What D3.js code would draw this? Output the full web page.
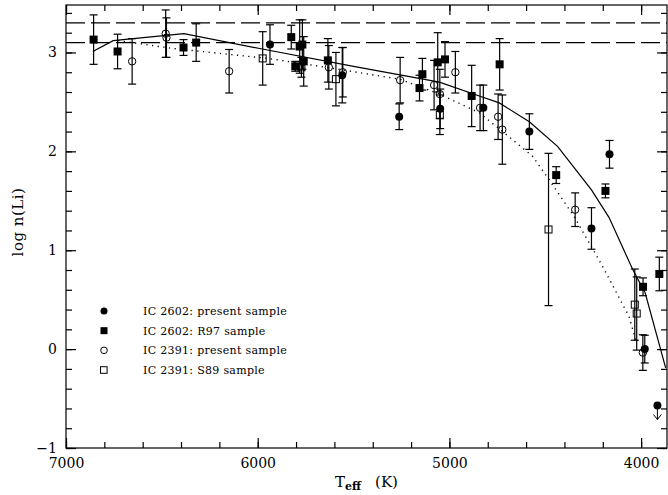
<!DOCTYPE html>
<html lang="en">
<head>
<meta charset="UTF-8">
<title>log n(Li) vs Teff</title>
<script src="https://d3js.org/d3.v7.min.js"></script>
<style>
  body { margin: 0; background: #fff; }
  text { font-family: "DejaVu Serif", serif; fill: #000; }
  .frame { fill: none; stroke: #000; stroke-width: 1.2px; }
  .tick line { stroke: #000; stroke-width: 1.2px; }
  .err { stroke: #000; stroke-width: 1.2px; }
</style>
</head>
<body>
<svg width="668" height="495"></svg>
<script>
// [Teff, log n(Li), error]
const ic2602Present = [
  [5936, 3.08, 0.20], [5559, 2.77, 0.28], [5262, 2.35, 0.13], [5048, 2.43, 0.20],
  [4823, 2.44, 0.23], [4583, 2.20, 0.18], [4259, 1.22, 0.21], [4165, 1.97, 0.14],
  [3981, 0.00, 0.14]
];
const ic2602Limits = [[3915, -0.57]];
const ic2602R97 = [
  [6856, 3.13, 0.25], [6731, 3.01, 0.175], [6387, 3.05, 0.08], [6321, 3.10, 0.19],
  [5825, 3.155, 0.12], [5804, 2.86, 0.05], [5781, 3.06, 0.27], [5767, 3.08, 0.25],
  [5760, 2.91, 0.25], [5634, 2.92, 0.22], [5156, 2.64, 0.13], [5141, 2.78, 0.16],
  [5061, 2.90, 0.30], [5023, 2.93, 0.18], [4884, 2.56, 0.31], [4738, 2.88, 0.26],
  [4443, 1.76, 0.085], [4186, 1.60, 0.07], [3990, 0.63, 0.09], [3905, 0.76, 0.17]
];
const ic2391Present = [
  [6655, 2.91, 0.23], [6480, 3.19, 0.24], [6476, 3.15, 0.20], [6149, 2.81, 0.22],
  [5629, 2.85, 0.22], [5556, 2.80, 0.25], [5257, 2.72, 0.23], [5080, 2.67, 0.25],
  [5050, 2.58, 0.25], [4969, 2.80, 0.21], [4840, 2.44, 0.23], [4746, 2.35, 0.23],
  [4724, 2.22, 0.35], [4344, 1.41, 0.17], [3991, -0.035, 0.18]
];
const ic2391S89 = [
  [5974, 2.94, 0.27], [5772, 2.85, 0.10], [5592, 2.73, 0.27], [5050, 2.37, 0.20],
  [4483, 1.21, 0.77], [4033, 0.45, 0.36], [4023, 0.36, 0.37]
];
const solidModel = [
  [6860, 3.01], [6754, 3.12], [6385, 3.19], [5990, 3.04], [5500, 2.86], [5052, 2.70],
  [4844, 2.56], [4740, 2.49], [4583, 2.30], [4436, 2.05], [4259, 1.61], [4167, 1.33],
  [4045, 0.81], [3979, 0.57], [3872, -0.19]
];
const dottedModel = [
  [6728, 3.12], [6441, 3.04], [5948, 2.94], [5642, 2.85], [5260, 2.73], [5052, 2.58],
  [4844, 2.39], [4722, 2.20], [4566, 1.95], [4479, 1.71], [4349, 1.34], [4202, 0.84],
  [4063, 0.33], [4028, 0.09]
];
const dashedLevels = [3.3, 3.1];
const legendLabels = ["IC 2602: present sample", "IC 2602: R97 sample", "IC 2391: present sample", "IC 2391: S89 sample"];
const xTicks = [7000, 6000, 5000, 4000];
const yTicks = [-1, 0, 1, 2, 3];

const svg = d3.select("svg");
const mLeft = 66, mRight = 667, mTop = 5, mBottom = 448;

const x = d3.scaleLinear().domain([7000, 3865]).range([mLeft, mRight]);
const y = d3.scaleLinear().domain([-1, 3.48]).range([mBottom, mTop]);

const xMinor = d3.range(7000, 3865, -200);
const yMinor = d3.range(-1, 3.48, 0.2);

// axes, ticks pointing inward
svg.append("g").attr("transform", `translate(0,${mBottom})`)
   .call(d3.axisBottom(x).tickValues(xMinor).tickSize(-6).tickFormat(""))
   .call(g => g.select(".domain").remove());
svg.append("g").attr("transform", `translate(0,${mBottom})`)
   .call(d3.axisBottom(x).tickValues(xTicks).tickSize(-10).tickPadding(10)
   .tickFormat(d3.format("d")))
   .call(g => g.select(".domain").remove())
   .selectAll("text").attr("font-size", 14).attr("font-family", "DejaVu Serif");
svg.append("g").attr("transform", `translate(0,${mTop})`)
   .call(d3.axisTop(x).tickValues(xMinor).tickSize(-6).tickFormat(""))
   .call(g => g.select(".domain").remove());
svg.append("g").attr("transform", `translate(0,${mTop})`)
   .call(d3.axisTop(x).tickValues(xTicks).tickSize(-10).tickFormat(""))
   .call(g => g.select(".domain").remove());

svg.append("g").attr("transform", `translate(${mLeft},0)`)
   .call(d3.axisLeft(y).tickValues(yMinor).tickSize(-6).tickFormat(""))
   .call(g => g.select(".domain").remove());
svg.append("g").attr("transform", `translate(${mLeft},0)`)
   .call(d3.axisLeft(y).tickValues(yTicks).tickSize(-10).tickPadding(9)
   .tickFormat(d => d < 0 ? "\u2212" + Math.abs(d) : d))
   .call(g => g.select(".domain").remove())
   .selectAll("text").attr("font-size", 14).attr("font-family", "DejaVu Serif");
svg.append("g").attr("transform", `translate(${mRight},0)`)
   .call(d3.axisRight(y).tickValues(yMinor).tickSize(-6).tickFormat(""))
   .call(g => g.select(".domain").remove());
svg.append("g").attr("transform", `translate(${mRight},0)`)
   .call(d3.axisRight(y).tickValues(yTicks).tickSize(-10).tickFormat(""))
   .call(g => g.select(".domain").remove());

svg.append("rect").attr("class", "frame")
   .attr("x", mLeft).attr("y", mTop).attr("width", mRight - mLeft).attr("height", mBottom - mTop);

const plot = svg.append("g");

// reference levels
plot.selectAll(".lvl").data(dashedLevels).enter().append("line")
    .attr("x1", mLeft).attr("x2", mRight)
    .attr("y1", d => y(d)).attr("y2", d => y(d))
    .attr("stroke", "#000").attr("stroke-width", 1.2)
    .attr("stroke-dasharray", "19,6");

const line = d3.line().x(d => x(d[0])).y(d => y(d[1]));
plot.append("path").datum(solidModel).attr("d", line)
    .attr("fill", "none").attr("stroke", "#000").attr("stroke-width", 1.2);
plot.append("path").datum(dottedModel).attr("d", line)
    .attr("fill", "none").attr("stroke", "#000").attr("stroke-width", 1.4)
    .attr("stroke-dasharray", "1.2,4.5");

// error bars
const cap = 4;
function errorBars(data) {
  const g = plot.append("g");
  data.forEach(d => {
    const cx = x(d[0]), y1 = y(d[1] + d[2]), y2 = y(d[1] - d[2]);
    g.append("line").attr("class", "err").attr("x1", cx).attr("x2", cx).attr("y1", y1).attr("y2", y2);
    g.append("line").attr("class", "err").attr("x1", cx - cap).attr("x2", cx + cap).attr("y1", y1).attr("y2", y1);
    g.append("line").attr("class", "err").attr("x1", cx - cap).attr("x2", cx + cap).attr("y1", y2).attr("y2", y2);
  });
}
[ic2602Present, ic2602R97, ic2391Present, ic2391S89].forEach(errorBars);

function circles(data, filled) {
  plot.append("g").selectAll("circle").data(data).enter().append("circle")
      .attr("cx", d => x(d[0])).attr("cy", d => y(d[1])).attr("r", filled ? 4 : 3.7)
      .attr("fill", filled ? "#000" : "none")
      .attr("stroke", "#000").attr("stroke-width", filled ? 0 : 1);
}
function squares(data, filled) {
  const s = filled ? 8 : 7;
  plot.append("g").selectAll("rect").data(data).enter().append("rect")
      .attr("x", d => x(d[0]) - s / 2).attr("y", d => y(d[1]) - s / 2)
      .attr("width", s).attr("height", s)
      .attr("fill", filled ? "#000" : "none")
      .attr("stroke", "#000").attr("stroke-width", filled ? 0 : 1);
}
circles(ic2391Present, false);
squares(ic2391S89, false);
squares(ic2602R97, true);
circles(ic2602Present, true);
circles(ic2602Limits, true);

// upper limit arrow
ic2602Limits.forEach(d => {
  const cx = x(d[0]), cy = y(d[1]);
  plot.append("line").attr("x1", cx).attr("x2", cx).attr("y1", cy).attr("y2", cy + 14)
      .attr("stroke", "#000").attr("stroke-width", 1);
  plot.append("path").attr("d", `M${cx - 4},${cy + 9}L${cx},${cy + 14}L${cx + 4},${cy + 9}`)
      .attr("fill", "none").attr("stroke", "#000").attr("stroke-width", 1);
});

// legend
const legY = d3.scalePoint().domain(legendLabels).range([311, 370]);
const leg = svg.append("g");
legendLabels.forEach((lab, i) => {
  const ly = legY(lab);
  if (i === 0) leg.append("circle").attr("cx", 104).attr("cy", ly).attr("r", 3.5).attr("fill", "#000");
  if (i === 1) leg.append("rect").attr("x", 100.5).attr("y", ly - 3.5).attr("width", 7).attr("height", 7).attr("fill", "#000");
  if (i === 2) leg.append("circle").attr("cx", 104).attr("cy", ly).attr("r", 3.3).attr("fill", "none").attr("stroke", "#000");
  if (i === 3) leg.append("rect").attr("x", 100.5).attr("y", ly - 3.3).attr("width", 6.6).attr("height", 6.6).attr("fill", "none").attr("stroke", "#000");
  leg.append("text").attr("x", 143).attr("y", ly + 4).attr("font-size", 11)
     .attr("letter-spacing", 0.3).text(lab);
});

// axis titles
svg.append("text").attr("transform", "translate(23,222) rotate(-90)")
   .attr("text-anchor", "middle").attr("font-size", 15).attr("letter-spacing", 0.5).text("log  n(Li)");
const xt = svg.append("text").attr("x", 335).attr("y", 487).attr("font-size", 15);
xt.append("tspan").text("T");
xt.append("tspan").attr("dy", 3).attr("font-size", 11).attr("font-weight", "bold").text("eff");
xt.append("tspan").attr("dy", -3).attr("dx", 14).text("(K)");
</script>
</body>
</html>
